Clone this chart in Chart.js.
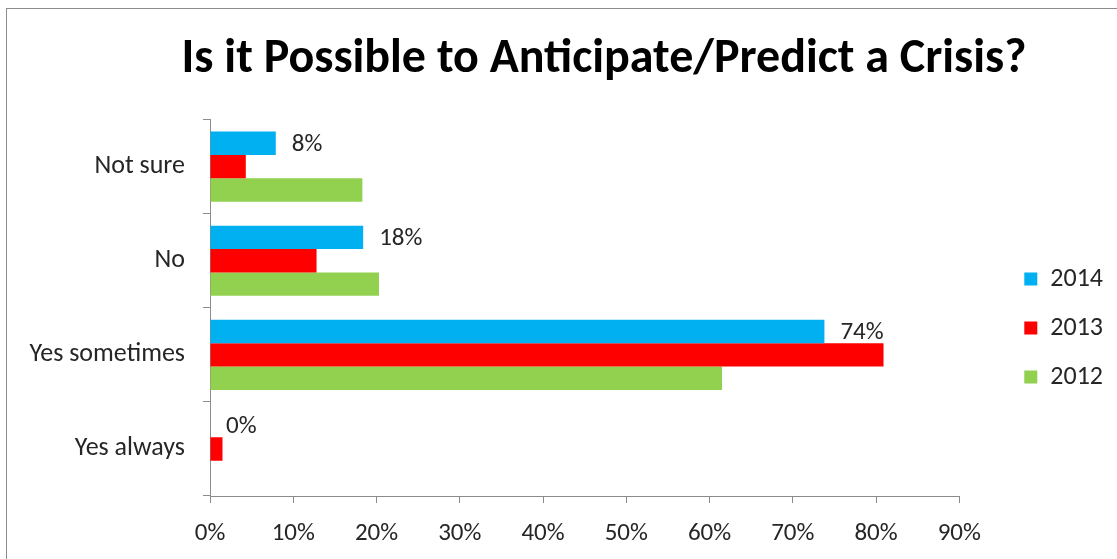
<!DOCTYPE html>
<html>
<head>
<meta charset="utf-8">
<script src="https://cdn.jsdelivr.net/npm/chart.js@4/dist/chart.umd.min.js"></script>
<style>
  html, body { margin: 0; padding: 0; background: #fff; overflow: hidden; }
  #frame { position: absolute; left: 6px; top: 8px; width: 1200px; height: 600px; border: 1px solid #8c8c8c; }
  #wrap { position: absolute; left: 0; top: 0; width: 1117px; height: 559px; }
</style>
</head>
<body>
<div id="frame"></div>
<div id="wrap"><canvas id="chart" width="1117" height="559"></canvas></div>
<script>
// 응답 항목 / 연도별 값 (%)
const categories = ['Not sure', 'No', 'Yes sometimes', 'Yes always'];
const years = ['2014', '2013', '2012'];
const values2014 = [7.9, 18.4, 73.8, 0];
const values2013 = [4.3, 12.8, 80.9, 1.5];
const values2012 = [18.3, 20.3, 61.5, 0];
const xMax = 90;
const xStep = 10;

const FONT = "Carlito, 'Liberation Sans Narrow', 'Liberation Sans', sans-serif";
const TEXT = '#262626';
const AXIS = '#8c8c8c';

// 2014 시리즈에만 값 라벨 표시
const valueLabels = {
    id: 'valueLabels',
    afterDatasetsDraw(chart) {
        const ctx = chart.ctx;
        const meta = chart.getDatasetMeta(0);
        ctx.save();
        ctx.font = `25px ${FONT}`;
        ctx.fillStyle = TEXT;
        ctx.textAlign = 'left';
        ctx.textBaseline = 'middle';
        meta.data.forEach((bar, i) => {
            const v = chart.data.datasets[0].data[i];
            ctx.fillText(`${Math.round(v)}%`, bar.x + 16, bar.y + 1);
        });
        ctx.restore();
    }
};

const ctx = document.getElementById('chart').getContext('2d');
new Chart(ctx, {
    type: 'bar',
    data: {
        labels: categories,
        datasets: [
            { label: years[0], data: values2014, backgroundColor: '#00B0F0' },
            { label: years[1], data: values2013, backgroundColor: '#FF0000' },
            { label: years[2], data: values2012, backgroundColor: '#92D050' }
        ]
    },
    options: {
        indexAxis: 'y',
        responsive: false,
        animation: false,
        layout: { padding: { left: 95, right: 4, top: 0, bottom: 0 } },
        datasets: {
            bar: { categoryPercentage: 0.745, barPercentage: 1.0 }
        },
        plugins: {
            title: {
                display: true,
                fullSize: true,
                text: 'Is it Possible to Anticipate/Predict a Crisis?',
                color: '#000',
                font: { family: FONT, size: 48, weight: 'bold' },
                padding: { top: 31, bottom: 31 }
            },
            legend: {
                display: true,
                position: 'right',
                align: 'start',
                title: {
                    display: true,
                    text: '',
                    font: { size: 10 },
                    padding: { top: 231, bottom: 0 }
                },
                labels: {
                    color: TEXT,
                    boxWidth: 13,
                    boxHeight: 13,
                    padding: 23,
                    font: { family: FONT, size: 26 }
                }
            },
            tooltip: { enabled: false }
        },
        scales: {
            x: {
                min: 0,
                max: xMax,
                ticks: {
                    stepSize: xStep,
                    color: TEXT,
                    padding: 16,
                    font: { family: FONT, size: 25 },
                    callback: (v) => `${v}%`
                },
                grid: {
                    drawOnChartArea: false,
                    drawTicks: true,
                    tickLength: 7,
                    color: AXIS
                },
                border: { display: true, color: AXIS },
                afterFit: (scale) => { scale.height = 63; }
            },
            y: {
                ticks: {
                    color: TEXT,
                    padding: 18,
                    font: { family: FONT, size: 26 }
                },
                grid: {
                    drawOnChartArea: false,
                    drawTicks: true,
                    tickLength: 7,
                    color: AXIS
                },
                border: { display: true, color: AXIS },
                afterFit: (scale) => {
                    scale.width = 115;
                    // 긴 라벨이 축 영역 밖으로 나가도 잘리지 않게
                    scale._computeLabelArea = () => undefined;
                }
            },
            // 플롯과 범례 사이 간격용 빈 축
            gap: {
                axis: 'y',
                type: 'linear',
                position: 'right',
                display: true,
                grid: { display: false },
                border: { display: false },
                ticks: { display: false },
                afterFit: (scale) => { scale.width = 42; }
            }
        }
    },
    plugins: [valueLabels]
});
</script>
</body>
</html>
